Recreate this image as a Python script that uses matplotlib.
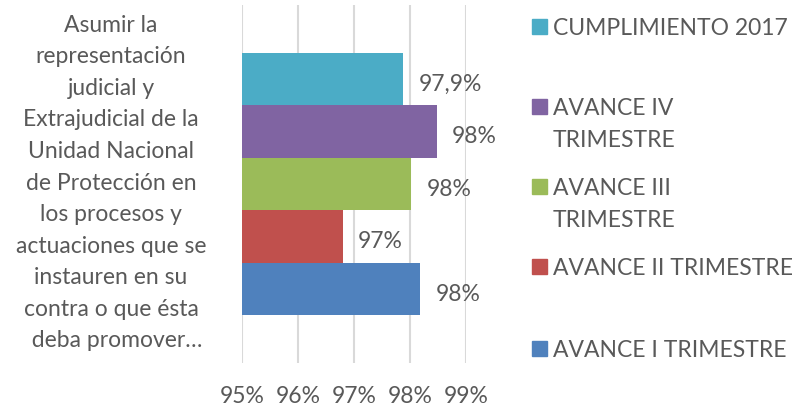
import matplotlib
matplotlib.use("Agg")
import matplotlib.pyplot as plt
from matplotlib.patches import Rectangle

# ---- data ----
category = ("Asumir la\nrepresentación\njudicial y\nExtrajudicial de la\nUnidad Nacional\n"
            "de Protección en\nlos procesos y\nactuaciones que se\ninstauren en su\n"
            "contra o que ésta\n  deba promover…")
series = ["AVANCE I TRIMESTRE", "AVANCE II TRIMESTRE", "AVANCE III TRIMESTRE",
          "AVANCE IV TRIMESTRE", "CUMPLIMIENTO 2017"]
legend_labels = ["AVANCE I TRIMESTRE", "AVANCE II TRIMESTRE", "AVANCE III\nTRIMESTRE",
                 "AVANCE IV\nTRIMESTRE", "CUMPLIMIENTO 2017"]
values = [98.18, 96.8, 98.02, 98.48, 97.88]
value_labels = ["98%", "97%", "98%", "98%", "97,9%"]
colors = ["#4F81BD", "#C0504D", "#9BBB59", "#8064A2", "#4BACC6"]
xticks = [95, 96, 97, 98, 99]
xtick_labels = ["95%", "96%", "97%", "98%", "99%"]

FONT = "Lato"
FS = 16.5
TXT = "#595959"
CAP = 0.72 * FS * 100 / 72  # cap height in px

W, H = 792, 407
fig = plt.figure(figsize=(W / 100, H / 100), dpi=100)
ax_l, ax_r, ax_t, ax_b = 242, 466, 5, 363
ax = fig.add_axes([ax_l / W, 1 - ax_b / H, (ax_r - ax_l) / W, (ax_b - ax_t) / H])

n = len(values)
h = 1.0 / (n + 1.82)
for i, (v, c, lab) in enumerate(zip(values, colors, value_labels)):
    y = 0.5 + (i - (n - 1) / 2) * h
    ax.barh(y, v - xticks[0], left=xticks[0], height=h, color=c, zorder=3)
    ax.annotate(lab, xy=(v, y), xytext=(11, -CAP / 2 * 0.72 - 2.5), textcoords="offset points",
                ha="left", va="baseline", fontsize=FS, color=TXT, family=FONT,
                annotation_clip=False)

ax.set_xlim(xticks[0], xticks[-1])
ax.set_ylim(0, 1)
ax.set_xticks(xticks)
ax.set_xticklabels(xtick_labels, fontsize=FS, color=TXT, family=FONT)
ax.tick_params(axis="x", length=0, pad=16.5)
ax.set_yticks([])
ax.grid(axis="x", color="#D9D9D9", linewidth=1.5, zorder=0)
for s in ax.spines.values():
    s.set_visible(False)

# category label
fig.text(111 / W, 1 - 183 / H, category, ha="center", va="center",
         multialignment="center", fontsize=FS, color=TXT, family=FONT, linespacing=1.62)

# legend (top entry first): centre y of first line of each entry, in px
leg_y = [26.7, 106.7, 186.7, 266.7, 348.3]
line_gap = 31.6
for k, idx in enumerate(range(n - 1, -1, -1)):
    yc = leg_y[k]
    fig.add_artist(Rectangle((532 / W, 1 - (yc + 7.3) / H), 14.6 / W, 14.6 / H,
                             transform=fig.transFigure, color=colors[idx]))
    for j, line in enumerate(legend_labels[idx].split("\n")):
        yb = yc + j * line_gap + CAP / 2
        fig.text(553 / W, 1 - yb / H, line, ha="left", va="baseline",
                 fontsize=FS, color=TXT, family=FONT)

fig.savefig("out.png", dpi=100)
